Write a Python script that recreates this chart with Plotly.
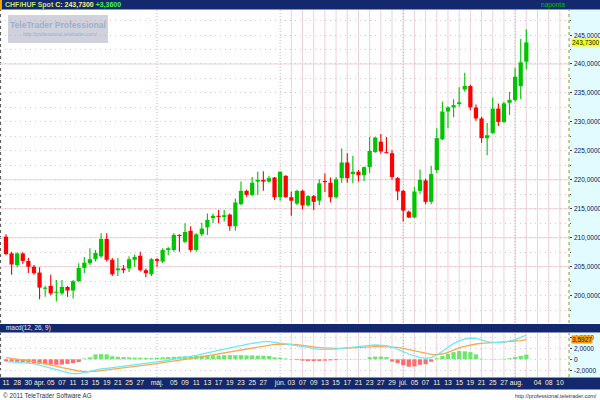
import plotly.graph_objects as go

# ---------------- data ----------------
opens = [210.2, 207.3, 205.3, 207.3, 206.0, 205.0, 204.0, 201.2, 201.7, 200.5,
         200.4, 201.5, 200.9, 202.5, 204.8, 205.6, 206.3, 206.8, 209.8, 206.2,
         204.4, 204.7, 204.7, 206.2, 206.9, 204.4, 203.7, 206.3, 205.9, 207.9,
         207.9, 210.5, 209.3, 211.2, 207.9, 210.6, 211.8, 213.4, 213.8, 213.6,
         214.0, 212.0, 215.8, 218.1, 217.4, 219.7, 220.0, 219.7, 220.4, 217.0,
         220.7, 217.0, 215.9, 218.1, 215.6, 217.2, 216.4, 219.8, 219.5, 217.0,
         220.3, 223.0, 221.0, 221.4, 220.8, 222.2, 224.8, 226.6, 224.7, 224.6,
         220.3, 218.1, 214.5, 213.5, 218.1, 219.9, 216.2, 221.7, 227.0, 231.8,
         232.5, 233.1, 235.6, 236.2, 232.5, 230.6, 227.2, 228.1, 232.3, 230.0,
         233.3, 233.8, 236.2, 240.4]
highs = [210.6, 207.6, 207.5, 207.5, 206.5, 205.3, 204.9, 201.7, 203.6, 202.7,
         202.7, 201.7, 202.7, 205.6, 206.7, 208.2, 207.9, 210.8, 210.8, 206.5,
         206.5, 205.3, 206.8, 207.1, 207.6, 204.7, 206.5, 206.5, 208.2, 208.4,
         210.8, 210.6, 212.5, 212.0, 210.8, 212.6, 214.2, 214.2, 214.8, 214.8,
         214.2, 216.8, 219.7, 218.3, 220.5, 221.4, 221.5, 220.7, 220.5, 221.5,
         220.8, 218.0, 218.3, 218.3, 217.4, 217.4, 220.1, 221.1, 220.4, 220.5,
         225.4, 224.6, 224.1, 221.7, 222.3, 227.4, 227.4, 227.9, 227.4, 225.1,
         220.5, 218.3, 214.7, 218.8, 221.8, 220.2, 222.4, 228.9, 233.5, 232.7,
         233.9, 236.0, 238.5, 236.4, 233.0, 230.9, 229.8, 234.2, 233.2, 233.5,
         235.2, 239.3, 244.3, 246.0]
lows = [207.0, 203.6, 204.9, 205.5, 203.9, 203.6, 199.4, 199.8, 200.1, 199.0,
        200.1, 199.8, 199.5, 202.4, 203.9, 205.3, 205.9, 206.5, 205.9, 203.4,
        203.4, 203.9, 204.1, 205.0, 204.2, 203.2, 203.4, 205.0, 205.6, 207.0,
        207.6, 207.6, 209.1, 207.6, 207.6, 210.3, 210.5, 212.5, 212.5, 212.8,
        211.2, 211.2, 215.6, 217.1, 217.2, 217.4, 218.1, 219.5, 216.5, 216.4,
        216.9, 213.8, 215.6, 214.9, 215.4, 214.8, 215.6, 217.9, 216.1, 216.8,
        219.5, 219.5, 219.4, 219.7, 219.8, 221.2, 224.7, 224.5, 224.6, 220.0,
        216.5, 212.8, 213.4, 213.4, 217.6, 215.8, 215.8, 221.2, 226.9, 228.9,
        230.8, 232.6, 235.2, 232.0, 230.2, 226.4, 224.3, 227.9, 229.3, 229.8,
        231.2, 233.5, 233.9, 239.1]
closes = [207.2, 205.4, 207.3, 206.0, 205.0, 203.9, 201.4, 201.4, 200.4, 200.7,
          201.5, 200.9, 202.5, 204.8, 205.7, 206.3, 207.4, 209.8, 206.2, 203.7,
          204.7, 204.4, 206.3, 206.7, 204.4, 203.9, 206.3, 206.0, 207.9, 208.2,
          210.5, 210.3, 211.0, 207.9, 210.6, 211.6, 213.1, 213.8, 213.6, 213.9,
          212.0, 216.1, 218.1, 217.4, 219.5, 220.0, 219.7, 220.3, 217.0, 221.4,
          217.0, 216.4, 218.1, 215.6, 217.2, 216.2, 219.4, 219.6, 217.0, 220.1,
          223.0, 220.3, 221.4, 220.8, 222.2, 225.0, 227.3, 224.9, 224.6, 220.5,
          218.0, 214.7, 213.5, 218.0, 220.0, 216.2, 221.0, 227.2, 231.8, 232.5,
          232.9, 233.4, 236.2, 232.5, 230.6, 227.2, 227.7, 232.3, 230.0, 233.2,
          233.8, 237.8, 240.3, 243.73]

macd_line = [-0.43, -0.49, -0.49, -0.55, -0.61, -0.79, -1.04, -1.34, -1.64, -1.95,
             -2.19, -2.43, -2.61, -2.61, -2.43, -2.19, -1.95, -1.76, -1.64, -1.52,
             -1.40, -1.28, -1.16, -1.04, -0.92, -0.79, -0.67, -0.55, -0.37, -0.19,
             0.05, 0.18, 0.36, 0.54, 0.72, 0.90, 1.15, 1.39, 1.63, 1.87,
             2.06, 2.30, 2.54, 2.72, 2.90, 3.09, 3.21, 3.21, 3.09, 3.02,
             2.90, 2.66, 2.48, 2.30, 2.12, 1.99, 1.81, 1.81, 1.81, 1.87,
             1.99, 2.12, 2.24, 2.36, 2.42, 2.54, 2.60, 2.60, 2.48, 2.24,
             1.87, 1.39, 0.96, 0.60, 0.36, 0.18, 0.30, 0.78, 1.51, 2.24,
             2.84, 3.33, 3.69, 3.87, 3.81, 3.51, 3.21, 3.09, 3.02, 3.09,
             3.27, 3.57, 3.99, 4.42]
signal_line = [0.30, 0.18, 0.05, -0.07, -0.25, -0.43, -0.61, -0.79, -1.04, -1.28,
               -1.52, -1.76, -1.95, -2.13, -2.25, -2.25, -2.19, -2.07, -1.95, -1.82,
               -1.70, -1.58, -1.46, -1.34, -1.16, -1.04, -0.92, -0.79, -0.61, -0.43,
               -0.25, -0.13, -0.01, 0.12, 0.30, 0.48, 0.66, 0.84, 1.02, 1.21,
               1.39, 1.57, 1.75, 1.93, 2.12, 2.30, 2.48, 2.60, 2.72, 2.78,
               2.78, 2.72, 2.66, 2.54, 2.36, 2.24, 2.12, 2.06, 1.99, 1.99,
               1.99, 2.06, 2.12, 2.18, 2.24, 2.30, 2.30, 2.30, 2.30, 2.24,
               2.18, 1.99, 1.75, 1.51, 1.27, 1.02, 0.90, 0.84, 0.96, 1.27,
               1.69, 2.06, 2.36, 2.60, 2.78, 2.90, 2.96, 3.02, 3.09, 3.15,
               3.21, 3.27, 3.39, 3.5927]
macd_hist = [-0.35, -0.4, -0.45, -0.5, -0.6, -0.7, -0.8, -0.9, -0.95, -1.0,
             -0.95, -0.85, -0.7, -0.5, 0.15, 0.35, 0.9, 0.95, 0.9, 0.55,
             0.45, 0.4, 0.35, 0.3, 0.3, 0.25, 0.25, 0.3, 0.35, 0.4,
             0.45, 0.5, 0.55, 0.55, 0.6, 0.65, 0.7, 0.7, 0.7, 0.75,
             0.75, 0.75, 0.75, 0.7, 0.7, 0.65, 0.65, 0.6, 0.35, 0.3,
             0.15, -0.05, -0.15, -0.25, -0.3, -0.3, -0.3, -0.25, -0.2, -0.15,
             0.05, 0.05, 0.05, 0.05, 0.05, 0.4, 0.5, 0.5, 0.4, -0.4,
             -0.7, -1.1, -1.35, -1.3, -1.0, -0.9, -0.45, 0.2, 0.6, 1.0,
             1.3, 1.5, 1.45, 1.3, 0.9, 0.1, 0.05, 0.05, 0.05, 0.1,
             0.2, 0.4, 0.6, 0.85]

tick_index = [0, 2, 4, 6, 8, 10, 12, 14, 16, 18, 20, 22, 24, 27, 30, 32, 34, 36, 38, 40,
              42, 44, 46, 49, 51, 53, 55, 57, 59, 61, 63, 65, 67, 69, 71, 73, 75, 77, 79, 81,
              83, 85, 87, 89, 91.2, 95, 97, 99]
tick_text = ["11", "28", "30", "ápr.", "05", "07", "11", "13", "15", "19",
             "21", "25", "27", "máj.", "05", "09", "11", "13", "17", "19",
             "23", "25", "27", "jún.", "03", "07", "09", "13", "15", "17",
             "21", "23", "27", "29", "júl.", "05", "07", "11", "13", "15",
             "19", "21", "25", "27", "aug.", "04", "08", "10"]
month_index = [27, 49, 71, 91]
grid_index = list(range(51, 100, 2))

price_ticks = [200, 205, 210, 215, 220, 225, 230, 235, 240, 245]
price_tick_text = ["200,0000", "205,0000", "210,0000", "215,0000", "220,0000",
                   "225,0000", "230,0000", "235,0000", "240,0000", "245,0000"]
solid_levels = [205, 210, 215, 220, 240]
macd_ticks = [-2, 0, 2, 4]
macd_tick_text = ["-2,0000", "0", "2,0000", "4,0000"]
last_close = 243.73
last_close_text = "243,7300"
last_signal = 3.5927
last_signal_text = "3,5927"

# ---------------- styling / layout ----------------
W, H = 600, 400
GREEN = "#00c400"
RED = "#ff0000"
NAVY = "#14286e"
PINK = "#eed0d8"
DOTGRID = "#dcc4cc"
FONT = "Liberation Sans"
LABEL_COLOR = "#0a1450"


def py(y):
    return 1 - y / H


XD = 569 / W
MAIN = [py(323), py(10)]
MACD = [py(377), py(333)]
XR = [-1.07, 100.63]

n = len(opens)
idx = list(range(n))
col = [GREEN if c >= o else RED for o, c in zip(opens, closes)]
body_base = [min(o, c) for o, c in zip(opens, closes)]
body_h = [max(abs(c - o), 0.18) for o, c in zip(opens, closes)]
wick_h = [h - l for h, l in zip(highs, lows)]

fig = go.Figure()
fig.add_trace(go.Bar(x=idx, y=wick_h, base=lows, width=0.2,
                     marker=dict(color=col, line=dict(width=0)),
                     xaxis="x", yaxis="y", hoverinfo="skip"))
fig.add_trace(go.Bar(x=idx, y=body_h, base=body_base, width=0.76,
                     marker=dict(color=col, line=dict(width=0)),
                     xaxis="x", yaxis="y", hoverinfo="skip"))
hist_col = ["#6ee66e" if v >= 0 else "#ff6e6e" for v in macd_hist]
fig.add_trace(go.Bar(x=idx, y=macd_hist, width=0.76,
                     marker=dict(color=hist_col, line=dict(width=0)),
                     xaxis="x2", yaxis="y2", hoverinfo="skip"))
fig.add_trace(go.Scatter(x=idx, y=signal_line, mode="lines",
                         line=dict(color="#f5aa50", width=1.3),
                         xaxis="x2", yaxis="y2", hoverinfo="skip"))
fig.add_trace(go.Scatter(x=idx, y=macd_line, mode="lines",
                         line=dict(color="#6ee8f2", width=1.3),
                         xaxis="x2", yaxis="y2", hoverinfo="skip"))

shapes = []
# header bars
shapes.append(dict(type="rect", xref="paper", yref="paper", x0=0, x1=1,
                   y0=py(9.5), y1=1, fillcolor=NAVY, line=dict(width=0), layer="below"))
shapes.append(dict(type="rect", xref="paper", yref="paper", x0=0, x1=2 / W,
                   y0=py(9.5), y1=1, fillcolor="#e8a800", line=dict(width=0), layer="above"))
shapes.append(dict(type="rect", xref="paper", yref="paper", x0=0, x1=1,
                   y0=py(332.5), y1=py(324), fillcolor=NAVY, line=dict(width=0), layer="below"))
shapes.append(dict(type="rect", xref="paper", yref="paper", x0=0, x1=1,
                   y0=py(389.5), y1=py(377.5), fillcolor=NAVY, line=dict(width=0), layer="below"))
# right axis background
for dom in (MAIN, MACD):
    shapes.append(dict(type="rect", xref="paper", yref="paper", x0=XD, x1=1,
                       y0=dom[0], y1=dom[1], fillcolor="#e2fbff",
                       line=dict(width=0), layer="below"))
    shapes.append(dict(type="line", xref="paper", yref="paper", x0=XD, x1=XD,
                       y0=dom[0], y1=dom[1], line=dict(color="#9a9040", width=1, dash="dot"),
                       layer="below"))
    shapes.append(dict(type="line", xref="paper", yref="paper", x0=0.6 / W, x1=0.6 / W,
                       y0=dom[0], y1=dom[1], line=dict(color="#505050", width=1, dash="dot"),
                       layer="below"))
# vertical grid
for gi in grid_index:
    for dom in (MAIN, MACD):
        shapes.append(dict(type="line", xref="x", yref="paper", x0=gi, x1=gi,
                           y0=dom[0], y1=dom[1], line=dict(color=PINK, width=1),
                           layer="below"))
for mi in month_index:
    for dom in (MAIN, MACD):
        shapes.append(dict(type="line", xref="x", yref="paper", x0=mi, x1=mi,
                           y0=dom[0], y1=dom[1],
                           line=dict(color="#c8b0b8", width=1, dash="1px,2px"),
                           layer="below"))
for lv in solid_levels:
    shapes.append(dict(type="line", xref="paper", yref="y", x0=0, x1=XD, y0=lv, y1=lv,
                       line=dict(color=PINK, width=1), layer="below"))
# watermark box
shapes.append(dict(type="rect", xref="paper", yref="paper", x0=8 / W, x1=108 / W,
                   y0=py(43), y1=py(15), fillcolor="rgba(170,172,188,0.55)",
                   line=dict(width=0), layer="above"))

annotations = [
    dict(xref="paper", yref="paper", x=3 / W, y=py(5), xanchor="left", yanchor="middle",
         showarrow=False,
         text="<b><span style='color:#c8e070'>CHF/HUF Spot</span> "
              "<span style='color:#fff27a'>C: 243,7300</span> "
              "<span style='color:#3cff3c'>+3,3600</span></b>",
         font=dict(family=FONT, size=7)),
    dict(xref="paper", yref="paper", x=567 / W, y=py(5), xanchor="right", yanchor="middle",
         showarrow=False, text="naponta", font=dict(family=FONT, size=6.6, color="#00c000")),
    dict(xref="paper", yref="paper", x=4 / W, y=py(328.3), xanchor="left", yanchor="middle",
         showarrow=False, text="macd(12, 26, 9)",
         font=dict(family=FONT, size=6.4, color="#e8ecff")),
    dict(xref="paper", yref="paper", x=58 / W, y=py(24.5), xanchor="center", yanchor="middle",
         showarrow=False, text="<b>TeleTrader Professional</b>",
         font=dict(family=FONT, size=8.5, color="#9cb0d2")),
    dict(xref="paper", yref="paper", x=60 / W, y=py(34.5), xanchor="center", yanchor="middle",
         showarrow=False, text="http://professional.teletrader.com/",
         font=dict(family=FONT, size=5, color="#9cb0d2")),
    dict(xref="paper", yref="paper", x=1 / W, y=py(395), xanchor="left", yanchor="middle",
         showarrow=False, text="© 2011 TeleTrader Software AG",
         font=dict(family=FONT, size=6.3, color="#333333")),
    dict(xref="paper", yref="paper", x=599 / W, y=py(395.5), xanchor="right", yanchor="middle",
         showarrow=False, text="http://professional.teletrader.com/",
         font=dict(family=FONT, size=5.5, color="#333333")),
]
# right-hand axis labels (drawn as text next to the axis)
for v, t in zip(price_ticks, price_tick_text):
    annotations.append(dict(xref="paper", yref="y", x=571.5 / W, y=v, xanchor="left",
                            yanchor="middle", showarrow=False, text=t,
                            font=dict(family=FONT, size=6.5, color=LABEL_COLOR)))
for v, t in zip(macd_ticks, macd_tick_text):
    annotations.append(dict(xref="paper", yref="y2", x=571.5 / W, y=v, xanchor="left",
                            yanchor="middle", showarrow=False, text=t,
                            font=dict(family=FONT, size=6.5, color=LABEL_COLOR)))
annotations.append(dict(xref="paper", yref="y", x=571 / W, y=last_close, xanchor="left",
                        yanchor="middle", showarrow=False, text=last_close_text,
                        bgcolor="#ffff00", borderpad=0,
                        font=dict(family=FONT, size=6.5, color=LABEL_COLOR)))
annotations.append(dict(xref="paper", yref="y2", x=571 / W, y=last_signal, xanchor="left",
                        yanchor="middle", showarrow=False, text=last_signal_text,
                        bgcolor="#ff9900", borderpad=0,
                        font=dict(family=FONT, size=6.5, color=LABEL_COLOR)))

fig.update_layout(
    template="none",
    width=W, height=H,
    margin=dict(l=0, r=0, t=0, b=0),
    paper_bgcolor="white", plot_bgcolor="white",
    showlegend=False, barmode="overlay",
    font=dict(family=FONT, size=7, color=LABEL_COLOR),
    xaxis=dict(domain=[0, XD], range=XR, anchor="y", showticklabels=False,
               showgrid=False, zeroline=False, showline=False, ticks="", automargin=False),
    xaxis2=dict(domain=[0, XD], range=XR, anchor="y2", matches="x",
                tickmode="array", tickvals=tick_index, ticktext=tick_text, tickangle=0,
                tickfont=dict(family=FONT, size=6.8, color="#f4f0cc"),
                showgrid=False, zeroline=False, showline=False, ticks="", automargin=False),
    yaxis=dict(domain=MAIN, range=[195.29, 249.32], anchor="x", side="right",
               tickmode="array", tickvals=price_ticks, showticklabels=False,
               ticks="outside", ticklen=2, tickcolor="#404040",
               showgrid=True, gridcolor=DOTGRID, griddash="1px,4px", zeroline=False,
               minor=dict(dtick=2.5, showgrid=True, gridcolor=DOTGRID, griddash="1px,4px",
                          ticks="outside", ticklen=1, tickcolor="#606060"),
               automargin=False),
    yaxis2=dict(domain=MACD, range=[-3.22, 4.78], anchor="x2", side="right",
                tickmode="array", tickvals=macd_ticks, showticklabels=False,
                ticks="outside", ticklen=2, tickcolor="#404040",
                showgrid=True, gridcolor=DOTGRID, griddash="1px,4px", zeroline=False,
                automargin=False),
    shapes=shapes,
    annotations=annotations,
)

fig.write_html("out.html",
               config={"displayModeBar": False, "staticPlot": True},
               post_script="document.body.style.margin='0px';document.body.style.padding='0px';")
